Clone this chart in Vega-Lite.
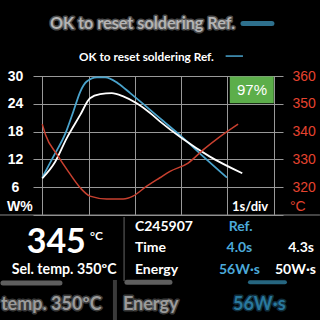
{
  "$schema": "https://vega.github.io/schema/vega-lite/v6.json",
  "width": 250,
  "height": 139,
  "autosize": {"type": "none"},
  "padding": {"left": 33, "top": 76, "right": 37, "bottom": 105},
  "background": "black",
  "config": {"view": {"stroke": null}, "axis": {"labelOverlap": false}},
  "datasets": {
    "power": [
      {"series": "Ref.", "t": 0, "w": 8.06},
      {"series": "Ref.", "t": 0.24, "w": 12.6},
      {"series": "Ref.", "t": 0.5, "w": 17.6},
      {"series": "Ref.", "t": 0.67, "w": 22.3},
      {"series": "Ref.", "t": 0.82, "w": 26.6},
      {"series": "Ref.", "t": 0.96, "w": 28.8},
      {"series": "Ref.", "t": 1.18, "w": 29.7},
      {"series": "Ref.", "t": 1.36, "w": 29.7},
      {"series": "Ref.", "t": 1.64, "w": 28.4},
      {"series": "Ref.", "t": 1.9, "w": 26.3},
      {"series": "Ref.", "t": 2.33, "w": 22.7},
      {"series": "Ref.", "t": 2.54, "w": 20.9},
      {"series": "Ref.", "t": 3.01, "w": 16.9},
      {"series": "Ref.", "t": 3.48, "w": 12.6},
      {"series": "Ref.", "t": 3.99, "w": 8.06},
      {"series": "Actual", "t": 0, "w": 7.9},
      {"series": "Actual", "t": 0.28, "w": 11.5},
      {"series": "Actual", "t": 0.53, "w": 16.6},
      {"series": "Actual", "t": 0.82, "w": 21.6},
      {"series": "Actual", "t": 1.03, "w": 25.2},
      {"series": "Actual", "t": 1.25, "w": 26.1},
      {"series": "Actual", "t": 1.5, "w": 26.3},
      {"series": "Actual", "t": 1.75, "w": 25.6},
      {"series": "Actual", "t": 2.04, "w": 24.1},
      {"series": "Actual", "t": 2.33, "w": 22.0},
      {"series": "Actual", "t": 2.54, "w": 20.2},
      {"series": "Actual", "t": 3.01, "w": 16.6},
      {"series": "Actual", "t": 3.62, "w": 12.6},
      {"series": "Actual", "t": 4.32, "w": 9.0}
    ],
    "temp": [
      {"t": 0, "temp": 342.7},
      {"t": 0.07, "temp": 338.9},
      {"t": 0.32, "temp": 331.7},
      {"t": 0.56, "temp": 325.7},
      {"t": 0.82, "temp": 319.8},
      {"t": 1.03, "temp": 316.8},
      {"t": 1.39, "temp": 315.8},
      {"t": 1.75, "temp": 315.8},
      {"t": 1.96, "temp": 316.8},
      {"t": 2.25, "temp": 320.3},
      {"t": 2.54, "temp": 323.4},
      {"t": 2.76, "temp": 325.7},
      {"t": 3.15, "temp": 328.7},
      {"t": 3.48, "temp": 333.5},
      {"t": 3.84, "temp": 338.2},
      {"t": 4.23, "temp": 342.7}
    ],
    "title": [{"t": 0.793, "w": 34.17, "label": "OK to reset soldering Ref."}],
    "titleDash": [{"t": 3.961, "t2": 4.335, "w": 34.3}],
    "blurTitle": [{"t": 0.166, "w": 41.2, "label": "OK to reset soldering Ref."}],
    "blurDash": [{"t": 4.335, "t2": 4.961, "w": 41.33}],
    "badge": [{"t": 4.05, "t2": 5.0, "w": 24.1, "w2": 29.9}],
    "badgeText": [{"t": 4.53, "w": 26.98, "label": "97%"}],
    "unitW": [{"t": -0.762, "w": 0.93, "label": "W%"}],
    "unitC": [{"t": 5.35, "w": 0.93, "label": "°C"}],
    "timeDiv": [{"t": 4.097, "w": 0.93, "label": "1s/div"}],
    "baseLine": [{"t": -0.92, "t2": 5.998, "w": 0}],
    "divider": [{"t": 1.767, "w": -0.43, "w2": -14.25}],
    "bigTemp": [{"t": -0.337, "w": -8.27, "label": "345"}],
    "bigUnit": [{"t": 1.03, "w": -5.4, "label": "°C"}],
    "selTemp": [{"t": -0.661, "w": -12.8, "label": "Sel. temp. 350ºC"}],
    "rowNames": [
      {"t": 2.002, "w": -3.39, "label": "C245907"},
      {"t": 2.002, "w": -7.92, "label": "Time"},
      {"t": 2.002, "w": -12.8, "label": "Energy"}
    ],
    "refValues": [
      {"t": 4.544, "w": -3.39, "label": "Ref."},
      {"t": 4.536, "w": -7.92, "label": "4.0s"},
      {"t": 4.702, "w": -12.8, "label": "56W·s"}
    ],
    "actValues": [
      {"t": 5.868, "w": -7.92, "label": "4.3s"},
      {"t": 5.911, "w": -12.8, "label": "50W·s"}
    ],
    "blurWhite": [
      {"t": -0.893, "w": -20.5, "label": "temp. 350ºC"},
      {"t": 1.743, "w": -20.5, "label": "Energy"}
    ],
    "blurBlue": [{"t": 4.119, "w": -20.5, "label": "56W·s"}],
    "blurBar": [{"t": 1.57, "w": -14.03, "w2": -23.1}],
    "blurWhiteBars": [
      {"t": -0.849, "t2": 0.382, "w": -14.68},
      {"t": 1.829, "t2": 2.758, "w": -14.5}
    ],
    "blurBlueBars": [{"t": 4.486, "t2": 5.242, "w": -14.5}]
  },
  "layer": [
    {
      "layer": [
        {
          "data": {"name": "power"},
          "mark": {"type": "line", "interpolate": "monotone", "strokeWidth": 1.8},
          "encoding": {
            "x": {"field": "t", "type": "quantitative", "scale": {"domain": [-0.2, 5.2], "nice": false, "zero": false},
              "axis": {"values": [0, 1, 2, 3, 4, 5], "tickCount": 10, "grid": true, "gridColor": "#999999", "labels": false, "ticks": false, "domain": false, "title": null}},
            "y": {"field": "w", "type": "quantitative", "scale": {"domain": [0, 30], "nice": false, "zero": false},
              "axis": {"values": [0, 6, 12, 18, 24, 30], "tickCount": 10, "grid": true, "gridColor": "#999999", "labelExpr": "datum.value == 0 ? '' : datum.label", "labelOverlap": false, "labelAlign": "center", "labelPadding": 18, "labelFont": "Liberation Sans", "labelFontWeight": "bold", "labelFontSize": 14, "labelColor": "white", "ticks": false, "domain": false, "title": null}},
            "color": {"field": "series", "type": "nominal", "scale": {"domain": ["Ref.", "Actual"], "range": ["#4aa3cc", "#ffffff"]}, "legend": null},
            "order": {"field": "t"}
          }
        },
        {
          "data": {"name": "badge"},
          "mark": {"type": "rect", "color": "#5cae4a"},
          "encoding": {
            "x": {"field": "t", "type": "quantitative", "scale": {"domain": [-0.2, 5.2], "nice": false, "zero": false}},
            "x2": {"field": "t2"},
            "y": {"field": "w", "type": "quantitative", "scale": {"domain": [0, 30], "nice": false, "zero": false}},
            "y2": {"field": "w2"}
          }
        },
        {
          "data": {"name": "badgeText"},
          "mark": {"type": "text", "color": "white", "font": "Liberation Sans", "fontSize": 15, "align": "center", "baseline": "middle"},
          "encoding": {
            "x": {"field": "t", "type": "quantitative", "scale": {"domain": [-0.2, 5.2], "nice": false, "zero": false}},
            "y": {"field": "w", "type": "quantitative", "scale": {"domain": [0, 30], "nice": false, "zero": false}},
            "text": {"field": "label"}
          }
        },
        {
          "data": {"name": "title"},
          "mark": {"type": "text", "color": "white", "font": "Lato", "fontWeight": "bold", "fontSize": 11.8, "align": "left", "baseline": "middle"},
          "encoding": {
            "x": {"field": "t", "type": "quantitative", "scale": {"domain": [-0.2, 5.2], "nice": false, "zero": false}},
            "y": {"field": "w", "type": "quantitative", "scale": {"domain": [0, 30], "nice": false, "zero": false}},
            "text": {"field": "label"}
          }
        },
        {
          "data": {"name": "titleDash"},
          "mark": {"type": "rule", "color": "#4aa3cc", "strokeWidth": 1.5},
          "encoding": {
            "x": {"field": "t", "type": "quantitative", "scale": {"domain": [-0.2, 5.2], "nice": false, "zero": false}},
            "x2": {"field": "t2"},
            "y": {"field": "w", "type": "quantitative", "scale": {"domain": [0, 30], "nice": false, "zero": false}}
          }
        },
        {
          "data": {"name": "blurTitle"},
          "mark": {"type": "text", "color": "#d8d8d8", "fillOpacity": 0.75, "stroke": "#d8d8d8", "strokeWidth": 3, "strokeOpacity": 0.35, "strokeJoin": "round", "font": "Lato", "fontWeight": "bold", "fontSize": 16.2, "align": "left", "baseline": "middle"},
          "encoding": {
            "x": {"field": "t", "type": "quantitative", "scale": {"domain": [-0.2, 5.2], "nice": false, "zero": false}},
            "y": {"field": "w", "type": "quantitative", "scale": {"domain": [0, 30], "nice": false, "zero": false}},
            "text": {"field": "label"}
          }
        },
        {
          "data": {"name": "blurDash"},
          "mark": {"type": "rule", "color": "#3a8cb0", "opacity": 0.8, "strokeWidth": 5, "strokeCap": "round"},
          "encoding": {
            "x": {"field": "t", "type": "quantitative", "scale": {"domain": [-0.2, 5.2], "nice": false, "zero": false}},
            "x2": {"field": "t2"},
            "y": {"field": "w", "type": "quantitative", "scale": {"domain": [0, 30], "nice": false, "zero": false}}
          }
        },
        {
          "data": {"name": "unitW"},
          "mark": {"type": "text", "color": "white", "font": "Liberation Sans", "fontWeight": "bold", "fontSize": 14, "align": "left", "baseline": "alphabetic"},
          "encoding": {
            "x": {"field": "t", "type": "quantitative", "scale": {"domain": [-0.2, 5.2], "nice": false, "zero": false}},
            "y": {"field": "w", "type": "quantitative", "scale": {"domain": [0, 30], "nice": false, "zero": false}},
            "text": {"field": "label"}
          }
        },
        {
          "data": {"name": "unitC"},
          "mark": {"type": "text", "color": "#e5432f", "font": "Liberation Sans", "fontSize": 14, "align": "left", "baseline": "alphabetic"},
          "encoding": {
            "x": {"field": "t", "type": "quantitative", "scale": {"domain": [-0.2, 5.2], "nice": false, "zero": false}},
            "y": {"field": "w", "type": "quantitative", "scale": {"domain": [0, 30], "nice": false, "zero": false}},
            "text": {"field": "label"}
          }
        },
        {
          "data": {"name": "timeDiv"},
          "mark": {"type": "text", "color": "white", "font": "Lato", "fontWeight": "bold", "fontSize": 13, "align": "left", "baseline": "alphabetic"},
          "encoding": {
            "x": {"field": "t", "type": "quantitative", "scale": {"domain": [-0.2, 5.2], "nice": false, "zero": false}},
            "y": {"field": "w", "type": "quantitative", "scale": {"domain": [0, 30], "nice": false, "zero": false}},
            "text": {"field": "label"}
          }
        },
        {
          "data": {"name": "baseLine"},
          "mark": {"type": "rule", "color": "#888888", "strokeWidth": 1},
          "encoding": {
            "x": {"field": "t", "type": "quantitative", "scale": {"domain": [-0.2, 5.2], "nice": false, "zero": false}},
            "x2": {"field": "t2"},
            "y": {"field": "w", "type": "quantitative", "scale": {"domain": [0, 30], "nice": false, "zero": false}}
          }
        },
        {
          "data": {"name": "divider"},
          "mark": {"type": "rule", "color": "#666666", "strokeWidth": 1},
          "encoding": {
            "x": {"field": "t", "type": "quantitative", "scale": {"domain": [-0.2, 5.2], "nice": false, "zero": false}},
            "y": {"field": "w", "type": "quantitative", "scale": {"domain": [0, 30], "nice": false, "zero": false}},
            "y2": {"field": "w2"}
          }
        },
        {
          "data": {"name": "bigTemp"},
          "mark": {"type": "text", "color": "white", "font": "Lato", "fontWeight": "bold", "fontSize": 34, "align": "left", "baseline": "alphabetic"},
          "encoding": {
            "x": {"field": "t", "type": "quantitative", "scale": {"domain": [-0.2, 5.2], "nice": false, "zero": false}},
            "y": {"field": "w", "type": "quantitative", "scale": {"domain": [0, 30], "nice": false, "zero": false}},
            "text": {"field": "label"}
          }
        },
        {
          "data": {"name": "bigUnit"},
          "mark": {"type": "text", "color": "white", "font": "Lato", "fontWeight": "bold", "fontSize": 12, "align": "left", "baseline": "alphabetic"},
          "encoding": {
            "x": {"field": "t", "type": "quantitative", "scale": {"domain": [-0.2, 5.2], "nice": false, "zero": false}},
            "y": {"field": "w", "type": "quantitative", "scale": {"domain": [0, 30], "nice": false, "zero": false}},
            "text": {"field": "label"}
          }
        },
        {
          "data": {"name": "selTemp"},
          "mark": {"type": "text", "color": "white", "font": "Lato", "fontWeight": "bold", "fontSize": 14.2, "align": "left", "baseline": "alphabetic"},
          "encoding": {
            "x": {"field": "t", "type": "quantitative", "scale": {"domain": [-0.2, 5.2], "nice": false, "zero": false}},
            "y": {"field": "w", "type": "quantitative", "scale": {"domain": [0, 30], "nice": false, "zero": false}},
            "text": {"field": "label"}
          }
        },
        {
          "data": {"name": "rowNames"},
          "mark": {"type": "text", "color": "white", "font": "Lato", "fontWeight": "bold", "fontSize": 14, "align": "left", "baseline": "alphabetic"},
          "encoding": {
            "x": {"field": "t", "type": "quantitative", "scale": {"domain": [-0.2, 5.2], "nice": false, "zero": false}},
            "y": {"field": "w", "type": "quantitative", "scale": {"domain": [0, 30], "nice": false, "zero": false}},
            "text": {"field": "label"}
          }
        },
        {
          "data": {"name": "refValues"},
          "mark": {"type": "text", "color": "#4ba9d9", "font": "Lato", "fontWeight": "bold", "fontSize": 14, "align": "right", "baseline": "alphabetic"},
          "encoding": {
            "x": {"field": "t", "type": "quantitative", "scale": {"domain": [-0.2, 5.2], "nice": false, "zero": false}},
            "y": {"field": "w", "type": "quantitative", "scale": {"domain": [0, 30], "nice": false, "zero": false}},
            "text": {"field": "label"}
          }
        },
        {
          "data": {"name": "actValues"},
          "mark": {"type": "text", "color": "white", "font": "Lato", "fontWeight": "bold", "fontSize": 14, "align": "right", "baseline": "alphabetic"},
          "encoding": {
            "x": {"field": "t", "type": "quantitative", "scale": {"domain": [-0.2, 5.2], "nice": false, "zero": false}},
            "y": {"field": "w", "type": "quantitative", "scale": {"domain": [0, 30], "nice": false, "zero": false}},
            "text": {"field": "label"}
          }
        },
        {
          "data": {"name": "blurBar"},
          "mark": {"type": "rule", "color": "#3a3a3a", "strokeWidth": 4},
          "encoding": {
            "x": {"field": "t", "type": "quantitative", "scale": {"domain": [-0.2, 5.2], "nice": false, "zero": false}},
            "y": {"field": "w", "type": "quantitative", "scale": {"domain": [0, 30], "nice": false, "zero": false}},
            "y2": {"field": "w2"}
          }
        },
        {
          "data": {"name": "blurWhiteBars"},
          "mark": {"type": "rule", "color": "#bbbbbb", "opacity": 0.5, "strokeWidth": 5, "strokeCap": "round"},
          "encoding": {
            "x": {"field": "t", "type": "quantitative", "scale": {"domain": [-0.2, 5.2], "nice": false, "zero": false}},
            "x2": {"field": "t2"},
            "y": {"field": "w", "type": "quantitative", "scale": {"domain": [0, 30], "nice": false, "zero": false}}
          }
        },
        {
          "data": {"name": "blurBlueBars"},
          "mark": {"type": "rule", "color": "#2f7fa0", "opacity": 0.8, "strokeWidth": 4, "strokeCap": "round"},
          "encoding": {
            "x": {"field": "t", "type": "quantitative", "scale": {"domain": [-0.2, 5.2], "nice": false, "zero": false}},
            "x2": {"field": "t2"},
            "y": {"field": "w", "type": "quantitative", "scale": {"domain": [0, 30], "nice": false, "zero": false}}
          }
        },
        {
          "data": {"name": "blurWhite"},
          "mark": {"type": "text", "color": "#c8c8c8", "fillOpacity": 0.7, "stroke": "#c8c8c8", "strokeWidth": 3, "strokeOpacity": 0.3, "strokeJoin": "round", "font": "Lato", "fontWeight": "bold", "fontSize": 18, "align": "left", "baseline": "alphabetic"},
          "encoding": {
            "x": {"field": "t", "type": "quantitative", "scale": {"domain": [-0.2, 5.2], "nice": false, "zero": false}},
            "y": {"field": "w", "type": "quantitative", "scale": {"domain": [0, 30], "nice": false, "zero": false}},
            "text": {"field": "label"}
          }
        },
        {
          "data": {"name": "blurBlue"},
          "mark": {"type": "text", "color": "#2f86b0", "fillOpacity": 0.85, "stroke": "#2f86b0", "strokeWidth": 3, "strokeOpacity": 0.35, "strokeJoin": "round", "font": "Lato", "fontWeight": "bold", "fontSize": 18, "align": "left", "baseline": "alphabetic"},
          "encoding": {
            "x": {"field": "t", "type": "quantitative", "scale": {"domain": [-0.2, 5.2], "nice": false, "zero": false}},
            "y": {"field": "w", "type": "quantitative", "scale": {"domain": [0, 30], "nice": false, "zero": false}},
            "text": {"field": "label"}
          }
        }
      ]
    },
    {
      "data": {"name": "temp"},
      "mark": {"type": "line", "interpolate": "monotone", "color": "#c8402f", "strokeWidth": 1.5},
      "encoding": {
        "x": {"field": "t", "type": "quantitative", "scale": {"domain": [-0.2, 5.2], "nice": false, "zero": false}},
        "y": {"field": "temp", "type": "quantitative", "scale": {"domain": [310, 360], "nice": false, "zero": false},
          "axis": {"orient": "right", "values": [320, 330, 340, 350, 360], "tickCount": 10, "grid": false, "ticks": false, "domain": false, "labelColor": "#e5432f", "labelFont": "Liberation Sans", "labelFontSize": 14, "labelPadding": 9, "title": null}}
      }
    }
  ],
  "resolve": {"scale": {"y": "independent"}}
}
